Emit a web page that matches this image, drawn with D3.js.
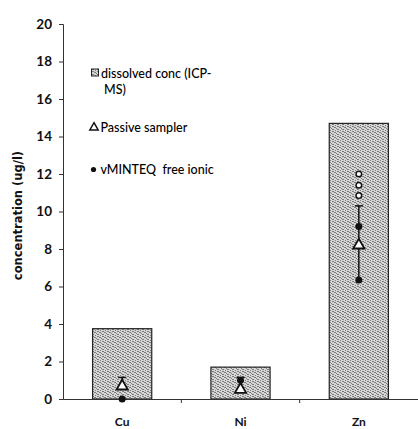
<!DOCTYPE html>
<html>
<head>
<meta charset="utf-8">
<script src="https://cdn.jsdelivr.net/npm/d3@7/dist/d3.min.js"></script>
<style>
html,body{margin:0;padding:0;background:#fff;}
svg{display:block;}
</style>
</head>
<body>
<script>
// ---- data ----
const categories = ["Cu", "Ni", "Zn"];
const dissolvedConc = [3.75, 1.7, 14.7];
const passiveSampler = [0.68, 0.5, 8.2];
const passiveErrLow = [0.68, 0.5, 6.3];
const passiveErrHigh = [1.15, 1.15, 10.3];
const freeIonicCat = ["Cu", "Ni", "Zn", "Zn"];
const freeIonicVal = [0, 1.0, 9.2, 6.35];
const openCat = ["Zn", "Zn", "Zn"];
const openVal = [12.0, 11.4, 10.85];
const yTicks = [0, 2, 4, 6, 8, 10, 12, 14, 16, 18, 20];
const legendLabels = [["dissolved conc (ICP-", "MS)"], ["Passive sampler"], ["vMINTEQ  free ionic"]];
const yTitle = "concentration (ug/l)";

const W = 418, H = 429;
const svg = d3.select("body").append("svg").attr("width", W).attr("height", H);

const x = d3.scaleBand().domain(categories).range([63, 418]).paddingInner(0.5).paddingOuter(0.25);
const y = d3.scaleLinear().domain([0, 20]).range([399, 24]);

// stipple pattern
const defs = svg.append("defs");
const pat = defs.append("pattern").attr("id", "stip").attr("patternUnits", "userSpaceOnUse")
  .attr("width", 5).attr("height", 5);
pat.append("rect").attr("width", 5).attr("height", 5).attr("fill", "#d6d6d6");
[[0,0],[2,1],[4,2],[1,3],[3,4],[0,2],[3,1],[2,4]].forEach(([a,b]) => {
  pat.append("rect").attr("x", a).attr("y", b).attr("width", 1).attr("height", 1).attr("fill", "#7c7c7c");
});

// bars
svg.selectAll("rect.bar").data(categories).join("rect")
  .attr("class", "bar")
  .attr("x", d => x(d))
  .attr("width", x.bandwidth())
  .attr("y", (d, i) => y(dissolvedConc[i]))
  .attr("height", (d, i) => y(0) - y(dissolvedConc[i]))
  .attr("fill", "url(#stip)")
  .attr("stroke", "#222").attr("stroke-width", 1.2);

// y axis
const yAxis = d3.axisLeft(y).tickValues(yTicks).tickSize(4).tickPadding(7).tickFormat(d3.format("d"));
const gy = svg.append("g").attr("transform", "translate(63,0)").call(yAxis);
gy.select(".domain").attr("stroke", "#333").attr("stroke-width", 1);
gy.selectAll(".tick line").attr("stroke", "#333");
gy.selectAll("text").attr("font-family", "Lato, 'Open Sans', sans-serif").attr("font-size", 13.5)
  .attr("font-weight", 700).attr("fill", "#111");

// x axis
const xAxis = d3.axisBottom(x).tickSize(0).tickPadding(18);
const gx = svg.append("g").attr("transform", `translate(0,${y(0)})`).call(xAxis);
gx.select(".domain").attr("stroke", "#333").attr("stroke-width", 1.2);
gx.selectAll("text").attr("font-family", "Lato, 'Open Sans', sans-serif").attr("font-size", 12)
  .attr("font-weight", 700).attr("fill", "#111");
// category boundary ticks
const step = x.step();
svg.selectAll("line.xb").data(categories.slice(1)).join("line")
  .attr("class", "xb")
  .attr("x1", d => x(d) - (step - x.bandwidth()) / 2)
  .attr("x2", d => x(d) - (step - x.bandwidth()) / 2)
  .attr("y1", y(0)).attr("y2", y(0) + 4)
  .attr("stroke", "#333");

// y title
svg.append("text")
  .attr("transform", `translate(22,${(y(0) + y(20)) / 2 + 4}) rotate(-90)`)
  .attr("text-anchor", "middle")
  .attr("font-family", "'DejaVu Sans', Verdana, sans-serif")
  .attr("font-size", 11.5).attr("font-weight", 600).attr("fill", "#111")
  .text(yTitle);

const cx = c => x(c) + x.bandwidth() / 2;

// error bars for passive sampler
categories.forEach((c, i) => {
  svg.append("line").attr("x1", cx(c)).attr("x2", cx(c))
    .attr("y1", y(passiveErrLow[i])).attr("y2", y(passiveErrHigh[i]))
    .attr("stroke", "#111").attr("stroke-width", 1.5);
  svg.append("line").attr("x1", cx(c) - 4).attr("x2", cx(c) + 4)
    .attr("y1", y(passiveErrHigh[i])).attr("y2", y(passiveErrHigh[i]))
    .attr("stroke", "#111").attr("stroke-width", 1.5);
});

// open circles
svg.selectAll("circle.open").data(openVal).join("circle")
  .attr("class", "open")
  .attr("cx", (d, i) => cx(openCat[i])).attr("cy", d => y(d)).attr("r", 2.8)
  .attr("fill", "#fff").attr("stroke", "#111").attr("stroke-width", 1.4);

// passive sampler triangles
const tri = d3.symbol().type(d3.symbolTriangle).size(55);
svg.selectAll("path.tri").data(passiveSampler).join("path")
  .attr("class", "tri")
  .attr("transform", (d, i) => `translate(${cx(categories[i])},${y(d)})`)
  .attr("d", tri)
  .attr("fill", "#fff").attr("stroke", "#111").attr("stroke-width", 1.8);

// free ionic dots
svg.selectAll("circle.free").data(freeIonicVal).join("circle")
  .attr("class", "free")
  .attr("cx", (d, i) => cx(freeIonicCat[i])).attr("cy", d => y(d)).attr("r", 3.5)
  .attr("fill", "#111");

// legend
const lg = svg.append("g").attr("font-family", "Lato, 'Open Sans', sans-serif")
  .attr("font-size", 12.5).attr("font-weight", 500).attr("fill", "#000");
lg.append("rect").attr("x", 91.5).attr("y", 69).attr("width", 7).attr("height", 7)
  .attr("fill", "url(#stip)").attr("stroke", "#222").attr("stroke-width", 1);
lg.append("text").attr("x", 101).attr("y", 77.5).text(legendLabels[0][0]);
lg.append("text").attr("x", 104).attr("y", 93.5).text(legendLabels[0][1]);
lg.append("path").attr("transform", "translate(94,127.5)")
  .attr("d", d3.symbol().type(d3.symbolTriangle).size(30))
  .attr("fill", "#fff").attr("stroke", "#111").attr("stroke-width", 1.5);
lg.append("text").attr("x", 100.5).attr("y", 131.5).text(legendLabels[1][0]);
lg.append("circle").attr("cx", 93.5).attr("cy", 169.5).attr("r", 2.6).attr("fill", "#111");
lg.append("text").attr("x", 100.5).attr("y", 173.5).style("white-space", "pre")
  .text(legendLabels[2][0]);
</script>
</body>
</html>
